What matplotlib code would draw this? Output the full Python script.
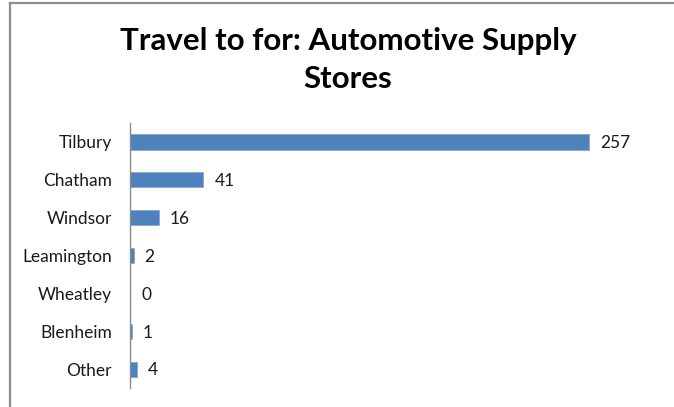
import matplotlib.pyplot as plt
from matplotlib.lines import Line2D

# places people travel to for automotive supply stores
places = ['Tilbury', 'Chatham', 'Windsor', 'Leamington', 'Wheatley', 'Blenheim', 'Other']
counts = [257, 41, 16, 2, 0, 1, 4]

plt.rcParams['font.family'] = ['Lato', 'DejaVu Sans']

fig = plt.figure(figsize=(6.74, 4.07), dpi=100)
W, H = 674, 407

# chart frame (gray border on the top and left)
fig.add_artist(Line2D([9.5 / W, 9.5 / W], [0, 1 - 2.5 / H], transform=fig.transFigure,
                      color='#8c8c8c', lw=1.6))
fig.add_artist(Line2D([9.5 / W, 1], [1 - 2.5 / H, 1 - 2.5 / H], transform=fig.transFigure,
                      color='#8c8c8c', lw=1.6))

ax = fig.add_axes([130 / W, 1 - 388 / H, (666 - 130) / W, (388 - 123) / H])

y = range(len(places))
ax.barh(y, counts, height=0.4, color='#4F81BD', edgecolor='#7fa3d1', linewidth=0.5)
ax.set_ylim(len(places) - 0.5, -0.5)
ax.set_xlim(0, 300)

for i, v in enumerate(counts):
    ax.annotate(str(v), (v, i), xytext=(8, -1), textcoords='offset points',
                ha='left', va='center', fontsize=12.5, color='#1a1a1a')

ax.set_yticks(list(y))
ax.set_yticklabels(places, fontsize=12.5, color='#1a1a1a')
ax.tick_params(axis='y', length=0, pad=13)
ax.set_xticks([])

for side in ['top', 'right', 'bottom']:
    ax.spines[side].set_visible(False)
ax.spines['left'].set_color('#8c8c8c')
ax.spines['left'].set_linewidth(1.0)

fig.text(348 / W, 1 - 41 / H, 'Travel to for: Automotive Supply', ha='center', va='center',
         fontsize=22.5, fontweight='bold', color='black')
fig.text(348 / W, 1 - 79 / H, 'Stores', ha='center', va='center',
         fontsize=22.5, fontweight='bold', color='black')

fig.savefig('out.png', dpi=100)
